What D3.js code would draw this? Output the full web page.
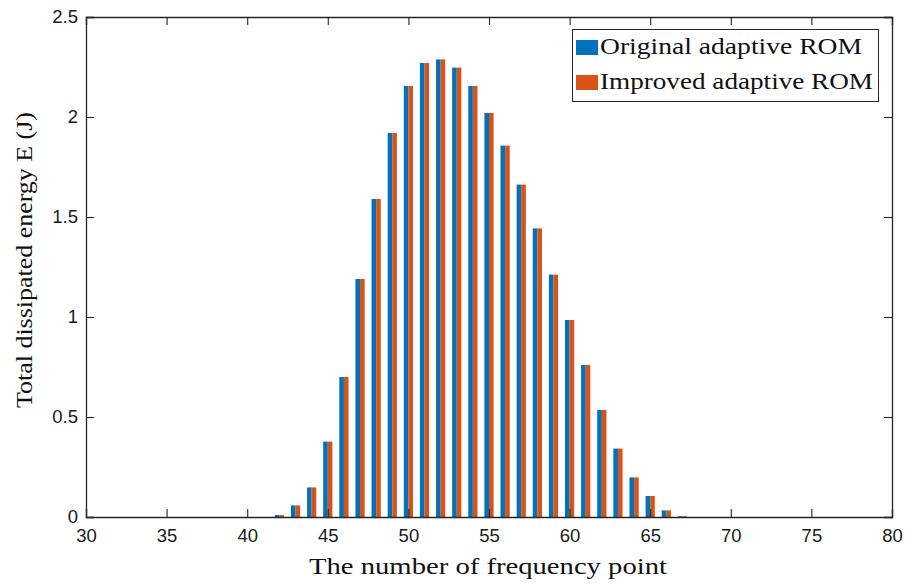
<!DOCTYPE html>
<html>
<head>
<meta charset="utf-8">
<script src="https://cdn.jsdelivr.net/npm/d3@7"></script>
<style>
  html, body { margin: 0; padding: 0; background: #fff; }
  svg { display: block; }
</style>
</head>
<body>
<script>
// Frequency point indices and the total dissipated energy (J) at each
const freqPoints = [42, 43, 44, 45, 46, 47, 48, 49, 50, 51, 52, 53, 54, 55, 56, 57, 58, 59, 60, 61, 62, 63, 64, 65, 66, 67];
const originalROM = [0.010, 0.058, 0.148, 0.377, 0.700, 1.190, 1.590, 1.920, 2.155, 2.270, 2.288, 2.247, 2.155, 2.020, 1.857, 1.662, 1.443, 1.212, 0.985, 0.760, 0.535, 0.342, 0.198, 0.105, 0.033, 0.004];
const improvedROM = [0.010, 0.058, 0.148, 0.377, 0.700, 1.190, 1.590, 1.920, 2.155, 2.270, 2.288, 2.247, 2.155, 2.020, 1.857, 1.662, 1.443, 1.212, 0.985, 0.760, 0.535, 0.342, 0.198, 0.105, 0.033, 0.004];
const seriesNames = ["Original adaptive ROM", "Improved adaptive ROM"];
const seriesColors = ["#0072BD", "#D95319"];
const xTicks = [30, 35, 40, 45, 50, 55, 60, 65, 70, 75, 80];
const yTicks = [0, 0.5, 1, 1.5, 2, 2.5];
const yTickLabels = ["0", "0.5", "1", "1.5", "2", "2.5"];

const W = 917, H = 585;
const plot = { left: 86, right: 892, top: 17, bottom: 517 };
const axisColor = "#262626";
const tickLen = 8;

const svg = d3.select("body").append("svg").attr("width", W).attr("height", H);

const x = d3.scaleLinear().domain([30, 80]).range([plot.left, plot.right]);
const y = d3.scaleLinear().domain([0, 2.5]).range([plot.bottom, plot.top]);

// Two bars per frequency point, side by side, no gap between them
const barW = 0.286;
const series = [originalROM, improvedROM];
const barsG = svg.append("g");
series.forEach((vals, si) => {
  barsG.selectAll(null)
    .data(freqPoints.map((f, i) => ({ f, v: vals[i] })))
    .enter().append("rect")
    .attr("x", d => x(d.f + (si === 0 ? -barW : 0)))
    .attr("width", d => x(d.f + barW) - x(d.f))
    .attr("y", d => y(d.v))
    .attr("height", d => y(0) - y(d.v))
    .attr("fill", seriesColors[si]);
});

// Axes box with inward ticks on every side
const bottomAxis = d3.axisBottom(x).tickValues(xTicks).tickSize(-tickLen).tickPadding(12).tickFormat(d3.format("d"));
const topAxis = d3.axisTop(x).tickValues(xTicks).tickSize(-tickLen).tickFormat("");
const leftAxis = d3.axisLeft(y).tickValues(yTicks).tickSize(-tickLen).tickPadding(8).tickFormat((d, i) => yTickLabels[i]);
const rightAxis = d3.axisRight(y).tickValues(yTicks).tickSize(-tickLen).tickFormat("");

function styleAxis(g) {
  g.select(".domain").attr("stroke", axisColor).attr("stroke-width", 1.3);
  g.selectAll(".tick line").attr("stroke", axisColor).attr("stroke-width", 1.1);
  g.selectAll(".tick text")
    .attr("fill", "#1a1a1a")
    .style("font-family", "'Liberation Sans', Arial, sans-serif")
    .style("font-size", "18.5px");
}

svg.append("g").attr("transform", `translate(0,${plot.bottom})`).call(bottomAxis).call(styleAxis);
svg.append("g").attr("transform", `translate(0,${plot.top})`).call(topAxis).call(styleAxis);
svg.append("g").attr("transform", `translate(${plot.left},0)`).call(leftAxis).call(styleAxis);
svg.append("g").attr("transform", `translate(${plot.right},0)`).call(rightAxis).call(styleAxis);

const serif = "'Liberation Serif', 'Times New Roman', serif";

// Axis titles
svg.append("text")
  .attr("x", 488).attr("y", 574)
  .attr("text-anchor", "middle")
  .attr("textLength", 358).attr("lengthAdjust", "spacingAndGlyphs")
  .style("font-family", serif).style("font-size", "24px").attr("fill", "#111")
  .text("The number of frequency point");

svg.append("text")
  .attr("transform", "translate(32,260) rotate(-90)")
  .attr("text-anchor", "middle")
  .attr("textLength", 296).attr("lengthAdjust", "spacingAndGlyphs")
  .style("font-family", serif).style("font-size", "24px").attr("fill", "#111")
  .text("Total dissipated energy E (J)");

// Legend
const legend = svg.append("g");
legend.append("rect")
  .attr("x", 572.5).attr("y", 29.5).attr("width", 306).attr("height", 72)
  .attr("fill", "#fff").attr("stroke", axisColor).attr("stroke-width", 1);
const legendWidths = [262, 273];
seriesNames.forEach((name, i) => {
  const cy = 47 + i * 35;
  legend.append("rect")
    .attr("x", 576).attr("y", cy - 7).attr("width", 22).attr("height", 15)
    .attr("fill", seriesColors[i]);
  legend.append("text")
    .attr("x", 600).attr("y", cy + 7)
    .attr("textLength", legendWidths[i]).attr("lengthAdjust", "spacingAndGlyphs")
    .style("font-family", serif).style("font-size", "23px").attr("fill", "#111")
    .text(name);
});
</script>
</body>
</html>
